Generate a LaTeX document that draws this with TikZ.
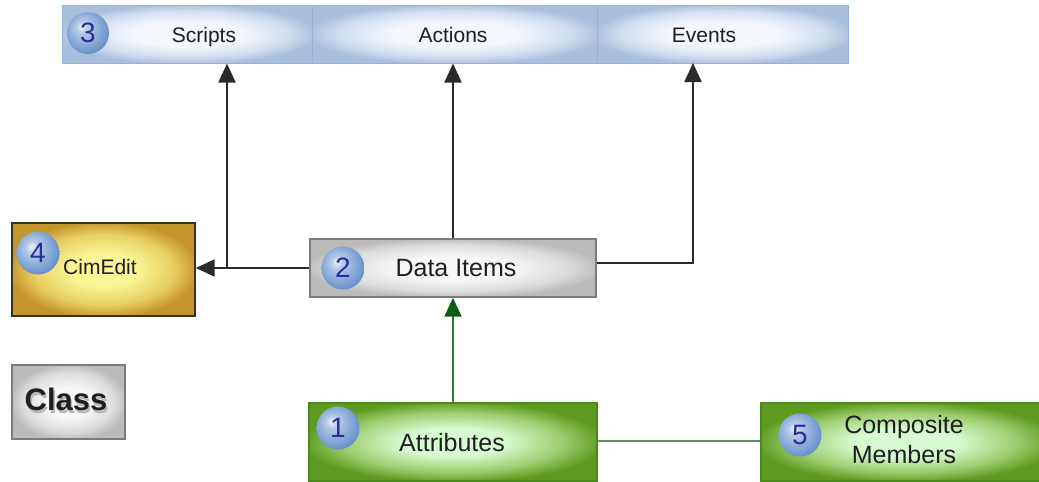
\documentclass[tikz,border=0pt]{standalone}
\usepackage{fontspec}
\setmainfont{Liberation Sans}
\usetikzlibrary{arrows.meta,calc}

\definecolor{bluein}{HTML}{F4F7FC}
\definecolor{bluemid}{HTML}{D2DEEF}
\definecolor{blueout}{HTML}{A9BFDE}
\definecolor{blueline}{HTML}{9AB2D6}
\definecolor{grayin}{HTML}{F7F7F7}
\definecolor{graymid}{HTML}{DCDCDC}
\definecolor{grayout}{HTML}{BBBBBB}
\definecolor{grayline}{HTML}{7C7C7C}
\definecolor{goldin}{HTML}{FAF596}
\definecolor{goldmid}{HTML}{E8CF62}
\definecolor{goldout}{HTML}{C4952A}
\definecolor{goldline}{HTML}{3A3218}
\definecolor{greenin}{HTML}{D6FBD0}
\definecolor{greenmid}{HTML}{9CCD6E}
\definecolor{greenout}{HTML}{5F9B22}
\definecolor{greenline}{HTML}{4B8A18}
\definecolor{ballhi}{HTML}{EEF3FA}
\definecolor{balllt}{HTML}{B3CBE8}
\definecolor{ballmd}{HTML}{7FA3D4}
\definecolor{balldk}{HTML}{5680BE}
\definecolor{numblue}{HTML}{2A2C9C}
\definecolor{conn}{HTML}{2A2A2A}
\definecolor{gconn}{HTML}{2F7A2F}
\definecolor{gtip}{HTML}{0E5E12}
\definecolor{gline}{HTML}{5A955A}

\pgfdeclareradialshading{bvblue}{\pgfpointorigin}{color(0bp)=(bluein); color(11bp)=(bluein); color(20bp)=(bluemid); color(26bp)=(blueout); color(50bp)=(blueout)}
\pgfdeclareradialshading{bvgray}{\pgfpointorigin}{color(0bp)=(grayin); color(10bp)=(grayin); color(20bp)=(graymid); color(26bp)=(grayout); color(50bp)=(grayout)}
\pgfdeclareradialshading{bvgold}{\pgfpointorigin}{color(0bp)=(goldin); color(9bp)=(goldin); color(19bp)=(goldmid); color(26bp)=(goldout); color(50bp)=(goldout)}
\pgfdeclareradialshading{bvgreen}{\pgfpointorigin}{color(0bp)=(greenin); color(9bp)=(greenin); color(19bp)=(greenmid); color(26bp)=(greenout); color(50bp)=(greenout)}
\pgfdeclareradialshading{ballblue}{\pgfpoint{-8bp}{8bp}}{color(0bp)=(ballhi); color(7bp)=(balllt); color(22bp)=(ballmd); color(34bp)=(balldk); color(50bp)=(balldk)}

\newcommand\fsz[1]{\fontsize{#1}{#1}\selectfont}

\tikzset{
  boxbase/.style={rectangle, inner sep=0pt, shade},
  topbox/.style={boxbase, shading=bvblue, draw=blueline, line width=1pt, minimum height=58pt},
  graybox/.style={boxbase, shading=bvgray, draw=grayline, line width=1.4pt},
  goldbox/.style={boxbase, shading=bvgold, draw=goldline, line width=1.4pt},
  greenbox/.style={boxbase, shading=bvgreen, draw=greenline, line width=1.2pt},
  numc/.style={circle, inner sep=0pt, minimum size=43pt, shade, shading=ballblue, text=numblue, font=\fsz{28}},
  txt/.style={anchor=base, inner sep=0pt, text=black!88},
  arr/.style={draw=conn, line width=2pt, -{Triangle[length=19pt,width=17pt]}},
  garr/.style={draw=gconn, line width=2pt, -{Triangle[length=19pt,width=17pt,fill=gtip,color=gtip]}},
  gconnline/.style={draw=gline, line width=2pt}
}

\begin{document}
\begin{tikzpicture}[x=1pt,y=-1pt]
\useasboundingbox (0,0) rectangle (1039,482);

% top bar
\node[topbox, minimum width=250pt] (scripts) at (187,34) {};
\node[topbox, minimum width=285pt] (actions) at (454.5,34) {};
\node[topbox, minimum width=251pt] (events) at (722.5,34) {};
\node[txt, font=\fsz{21}] (scriptsT) at (204,42) {Scripts};
\node[txt, font=\fsz{21}] (actionsT) at (453,42) {Actions};
\node[txt, font=\fsz{21}] (eventsT) at (704,42) {Events};
\node[numc, minimum size=42pt] (n3) at (88,33) {3};

% other boxes
\node[goldbox, minimum width=183pt, minimum height=93pt] (cim) at (103.5,269.5) {};
\node[txt, font=\fsz{21}] (cimT) at (100,274) {CimEdit};
\node[numc] (n4) at (38,253) {4};

\node[graybox, minimum width=286pt, minimum height=58pt] (data) at (453,268) {};
\node[txt, font=\fsz{25}] (dataT) at (456,276) {Data Items};
\node[numc] (n2) at (343,268) {2};

\node[graybox, minimum width=113pt, minimum height=74pt] (class) at (68.5,402) {};
\node[txt, font=\bfseries\fsz{31}] (classT) at (66,410) {\rlap{\raisebox{-3.5pt}{\hspace{1.5pt}\textcolor{gray!55}{Class}}}Class};

\node[greenbox, minimum width=288pt, minimum height=78pt] (attr) at (453,442) {};
\node[txt, font=\fsz{25}] (attrT) at (452,451) {Attributes};
\node[numc] (n1) at (338,428) {1};

\node[greenbox, minimum width=290pt, minimum height=78pt] (comp) at (906,442) {};
\node[txt, font=\fsz{25}] (compT1) at (904,433) {Composite};
\node[txt, font=\fsz{25}] (compT2) at (904,463) {Members};
\node[numc] (n5) at (800,435) {5};

% connectors
\coordinate (jn) at (227,268);
\coordinate (evin) at (693,63);
\draw[arr] (data.west) -- (data.west -| cim.east);
\draw[arr] (jn) -- (jn |- scripts.south);
\draw[arr] (data.north) -- (data.north |- actions.south);
\draw[arr] ([yshift=5pt]data.east) -| (evin);
\draw[garr] (attr.north) -- (attr.north |- data.south);
\draw[gconnline] ([yshift=1pt]attr.east) -- ([yshift=1pt]attr.east -| comp.west);
\end{tikzpicture}
\end{document}
